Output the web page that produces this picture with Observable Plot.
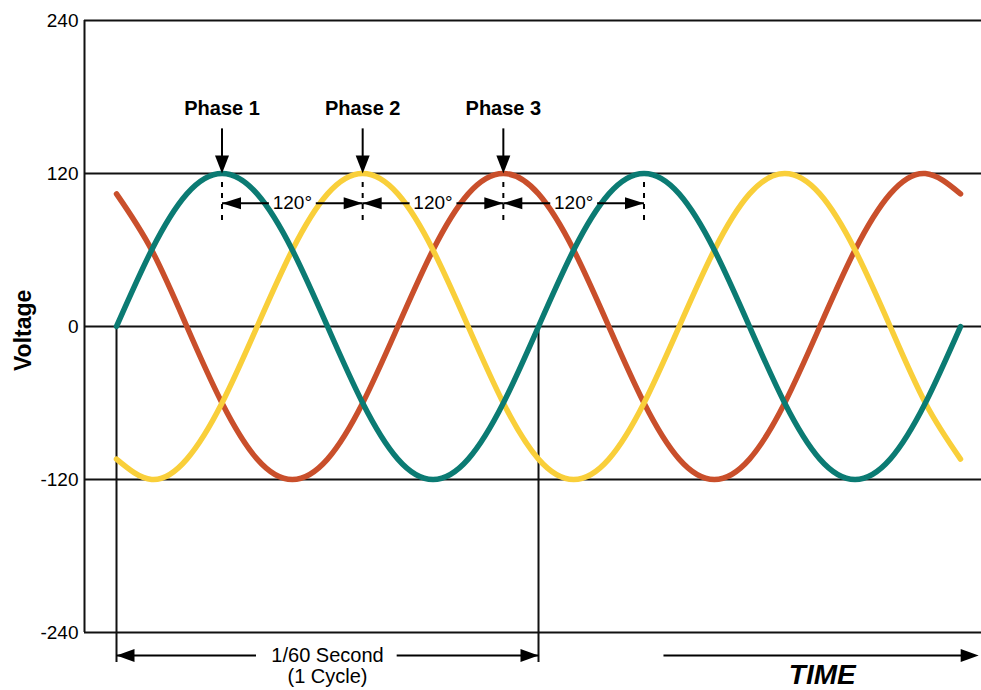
<!DOCTYPE html>
<html>
<head>
<meta charset="utf-8">
<script src="https://cdn.jsdelivr.net/npm/d3@7"></script>
<script src="https://cdn.jsdelivr.net/npm/@observablehq/plot@0.6"></script>
<style>
  html, body { margin: 0; padding: 0; background: #fff; }
  #chart svg { display: block; }
</style>
</head>
<body>
<div id="chart"></div>
<script>
// ---- data (time in electrical degrees, voltage in volts) ----
const timeDeg = [0,30,60,90,120,150,180,210,240,270,300,330,360,390,420,450,480,510,540,570,600,630,660,690,720];
const phase1 = [0,60,104,120,104,60,0,-60,-104,-120,-104,-60,0,60,104,120,104,60,0,-60,-104,-120,-104,-60,0];
const phase2 = [-104,-120,-104,-60,0,60,104,120,104,60,0,-60,-104,-120,-104,-60,0,60,104,120,104,60,0,-60,-104];
const phase3 = [104,60,0,-60,-104,-120,-104,-60,0,60,104,120,104,60,0,-60,-104,-120,-104,-60,0,60,104,120,104];
const yTicks = [240, 120, 0, -120, -240];
const phaseLabels = ["Phase 1", "Phase 2", "Phase 3"];
const phasePeaks = [90, 210, 330];
const peakMarks = [90, 210, 330, 450];
const shiftLabel = "120°";
const cycleStart = 0, cycleEnd = 360;
const cycleLabel1 = "1/60 Second", cycleLabel2 = "(1 Cycle)";
const timeLabel = "TIME";
const yLabel = "Voltage";

const colors = {p1: "#0b7b73", p2: "#f9cf3a", p3: "#c94f2b"};

const rows = (vals) => timeDeg.map((t, i) => ({t, v: vals[i]}));

// x domain in degrees; frame extends slightly left of t=0 and right of t=720
const xMin = -27.3, xMax = 737.9;

// filled arrowhead shape for Plot.vector
const head = {
  draw(ctx, l, r) {
    ctx.moveTo(0, -l);
    ctx.lineTo(r, 0);
    ctx.lineTo(-r, 0);
    ctx.closePath();
  }
};

// dimension segments between successive peaks
const dims = peakMarks.slice(0, -1).map((a, i) => ({a, b: peakMarks[i + 1], mid: (a + peakMarks[i + 1]) / 2}));
const gap = 20;
const dimSegs = dims.flatMap(d => [{x1: d.a, x2: d.mid - gap}, {x1: d.mid + gap, x2: d.b}]);

const yPhaseText = 171, yShaftTop = 155, yPeak = 120;
const yDashTop = 113, yDashBot = 82, yDim = 96.7;
const yBottomLine = -258, yBottomText2 = -274.5, yVertBottom = -263.5, yTimeText = -273.5;
const cycleGapL = 119, cycleGapR = 239, timeStart = 466.6, timeTip = 735.5;

const font = "'Liberation Sans', Arial, Helvetica, sans-serif";

const plot = Plot.plot({
  width: 981,
  height: 690,
  marginLeft: 84,
  marginRight: 0,
  marginTop: 20,
  marginBottom: 58,
  style: {fontFamily: font, fontSize: "19px", color: "#000", background: "#fff"},
  x: {domain: [xMin, xMax], axis: null},
  y: {domain: [-240, 240]},
  marks: [
    Plot.axisY({ticks: yTicks, tickSize: 0, tickPadding: 6, fontSize: 19, label: null, tickFormat: d => String(d)}),
    Plot.ruleY(yTicks, {stroke: "#111", strokeWidth: 2}),
    Plot.ruleX([xMin], {y1: -240, y2: 240, stroke: "#111", strokeWidth: 2}),
    // cycle boundary verticals
    Plot.ruleX([cycleStart, cycleEnd], {y1: 0, y2: yVertBottom, stroke: "#111", strokeWidth: 2}),
    // waveforms
    Plot.line(rows(phase3), {x: "t", y: "v", stroke: colors.p3, strokeWidth: 5.5, curve: "natural"}),
    Plot.line(rows(phase2), {x: "t", y: "v", stroke: colors.p2, strokeWidth: 5.5, curve: "natural"}),
    Plot.line(rows(phase1), {x: "t", y: "v", stroke: colors.p1, strokeWidth: 5.5, curve: "natural"}),
    // phase labels and arrows
    Plot.text(phaseLabels, {x: (d, i) => phasePeaks[i], y: yPhaseText, text: d => d, fontWeight: "bold", fontSize: 20, lineAnchor: "middle"}),
    Plot.ruleX(phasePeaks, {y1: yShaftTop, y2: yPeak + 10, stroke: "#000", strokeWidth: 2}),
    Plot.vector(phasePeaks, {x: d => d, y: yPeak, rotate: 180, length: 18, r: 7, anchor: "end", shape: head, fill: "#000", stroke: "none"}),
    // dashed peak markers
    Plot.ruleX(peakMarks, {y1: yDashTop, y2: yDashBot, stroke: "#000", strokeWidth: 2, strokeDasharray: "5,6"}),
    // 120° dimension lines
    Plot.link(dimSegs, {x1: "x1", x2: "x2", y1: yDim, y2: yDim, stroke: "#000", strokeWidth: 2}),
    Plot.vector(dims, {x: "a", y: yDim, rotate: 270, length: 19, r: 6, anchor: "end", shape: head, fill: "#000", stroke: "none"}),
    Plot.vector(dims, {x: "b", y: yDim, rotate: 90, length: 19, r: 6, anchor: "end", shape: head, fill: "#000", stroke: "none"}),
    Plot.text(dims, {x: "mid", y: yDim, text: () => shiftLabel, fontSize: 19, lineAnchor: "middle"}),
    // 1/60 second dimension
    Plot.link([{x1: cycleStart, x2: cycleGapL}, {x1: cycleGapR, x2: cycleEnd}], {x1: "x1", x2: "x2", y1: yBottomLine, y2: yBottomLine, stroke: "#000", strokeWidth: 2}),
    Plot.vector([cycleStart], {x: d => d, y: yBottomLine, rotate: 270, length: 18, r: 6.5, anchor: "end", shape: head, fill: "#000", stroke: "none"}),
    Plot.vector([cycleEnd], {x: d => d, y: yBottomLine, rotate: 90, length: 18, r: 6.5, anchor: "end", shape: head, fill: "#000", stroke: "none"}),
    Plot.text([cycleLabel1], {x: (cycleStart + cycleEnd) / 2, y: yBottomLine, text: d => d, fontSize: 20, lineAnchor: "middle"}),
    Plot.text([cycleLabel2], {x: (cycleStart + cycleEnd) / 2, y: yBottomText2, text: d => d, fontSize: 20, lineAnchor: "middle"}),
    // TIME arrow
    Plot.link([{x1: timeStart, x2: timeTip - 5}], {x1: "x1", x2: "x2", y1: yBottomLine, y2: yBottomLine, stroke: "#000", strokeWidth: 2}),
    Plot.vector([timeTip], {x: d => d, y: yBottomLine, rotate: 90, length: 18, r: 6.5, anchor: "end", shape: head, fill: "#000", stroke: "none"}),
    Plot.text([timeLabel], {x: (timeStart + timeTip) / 2 + 1, y: yTimeText, text: d => d, fontSize: 28, fontWeight: "bold", fontStyle: "italic", lineAnchor: "middle"}),
    // y label
    Plot.text([yLabel], {x: xMin, y: -3, dx: -61, text: d => d, rotate: -90, fontSize: 23, fontWeight: "bold", lineAnchor: "middle"})
  ]
});
document.getElementById("chart").append(plot);
</script>
</body>
</html>
